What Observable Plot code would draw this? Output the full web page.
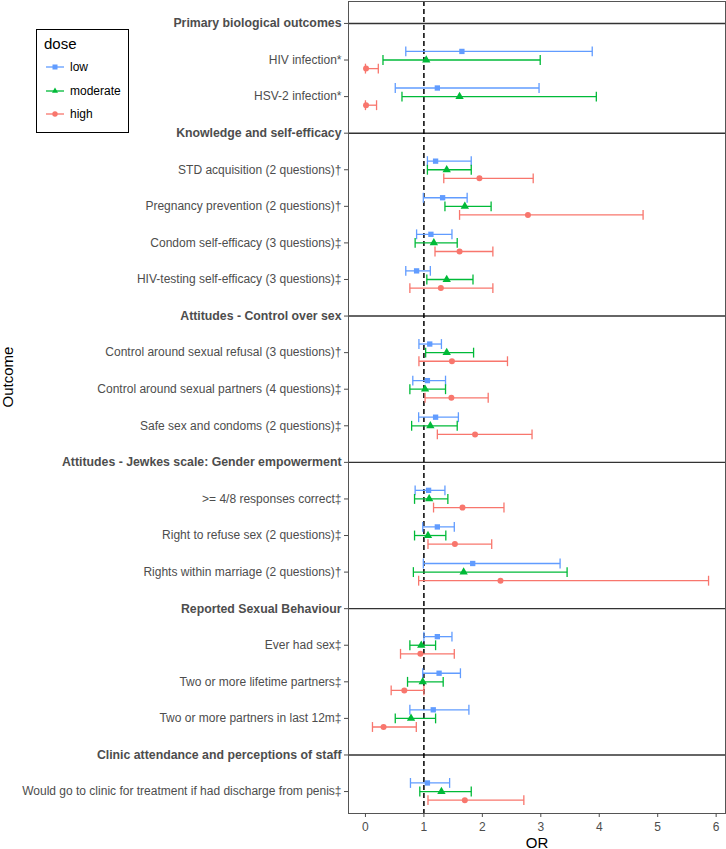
<!DOCTYPE html>
<html>
<head>
<meta charset="utf-8">
<script src="https://cdn.jsdelivr.net/npm/d3@7"></script>
<script src="https://cdn.jsdelivr.net/npm/@observablehq/plot@0.6"></script>
<style>
  body { margin: 0; background: #fff; font-family: "Liberation Sans", Arial, sans-serif; }
  #wrap { position: relative; width: 726px; height: 849px; }
  #legend { position: absolute; left: 36px; top: 29px; width: 91px; height: 102px; border: 1px solid #000; background: #fff; }
  #legend .title { position: absolute; left: 7px; top: 5px; font-size: 15px; color: #000; }
  #legend .item { position: absolute; left: 9px; height: 14px; font-size: 12px; color: #000; display: flex; align-items: center; }
  #legend .item svg { margin-right: 6px; }
</style>
</head>
<body>
<div id="wrap"><div id="chart"></div><div id="legend"></div></div>
<script>
const rows = [
  "Primary biological outcomes",
  "HIV infection*",
  "HSV-2 infection*",
  "Knowledge and self-efficacy",
  "STD acquisition (2 questions)†",
  "Pregnancy prevention (2 questions)†",
  "Condom self-efficacy (3 questions)‡",
  "HIV-testing self-efficacy (3 questions)‡",
  "Attitudes - Control over sex",
  "Control around sexual refusal (3 questions)†",
  "Control around sexual partners (4 questions)‡",
  "Safe sex and condoms (2 questions)‡",
  "Attitudes - Jewkes scale: Gender empowerment",
  ">= 4/8 responses correct‡",
  "Right to refuse sex (2 questions)‡",
  "Rights within marriage (2 questions)†",
  "Reported Sexual Behaviour",
  "Ever had sex‡",
  "Two or more lifetime partners‡",
  "Two or more partners in last 12m‡",
  "Clinic attendance and perceptions of staff",
  "Would go to clinic for treatment if had discharge from penis‡"
];
const headers = [
  "Primary biological outcomes",
  "Knowledge and self-efficacy",
  "Attitudes - Control over sex",
  "Attitudes - Jewkes scale: Gender empowerment",
  "Reported Sexual Behaviour",
  "Clinic attendance and perceptions of staff"
];
const outcomes = rows.filter(r => !headers.includes(r));

const doses = ["low", "moderate", "high"];
const doseColors = ["#619CFF", "#00BA38", "#F8766D"];
const doseSymbols = ["square", "triangle", "circle"];

const lowOR  = [1.65, 1.23, 1.20, 1.32, 1.12, 0.875, 1.10, 1.06, 1.20, 1.08, 1.23, 1.835, 1.23, 1.26, 1.16, 1.06];
const lowLo  = [0.69, 0.51, 1.06, 0.99, 0.875, 0.69, 0.915, 0.81, 0.91, 0.85, 0.98, 0.99, 1.00, 0.98, 0.76, 0.77];
const lowHi  = [3.88, 2.97, 1.81, 1.74, 1.48, 1.11, 1.30, 1.37, 1.59, 1.36, 1.52, 3.33, 1.48, 1.625, 1.77, 1.44];
const modOR  = [1.04, 1.61, 1.39, 1.70, 1.17, 1.39, 1.39, 1.02, 1.11, 1.09, 1.07, 1.68, 0.955, 0.98, 0.78, 1.30];
const modLo  = [0.30, 0.625, 1.06, 1.36, 0.85, 1.05, 1.03, 0.76, 0.79, 0.84, 0.84, 0.82, 0.76, 0.72, 0.51, 0.93];
const modHi  = [2.99, 3.95, 1.81, 2.15, 1.57, 1.84, 1.85, 1.37, 1.57, 1.41, 1.375, 3.45, 1.20, 1.33, 1.20, 1.81];
const highOR = [0.01, 0.01, 1.95, 2.78, 1.61, 1.29, 1.48, 1.47, 1.875, 1.66, 1.53, 2.31, 0.94, 0.665, 0.31, 1.70];
const highLo = [0.00, 0.00, 1.34, 1.61, 1.19, 0.76, 0.915, 1.02, 1.23, 1.165, 1.07, 0.91, 0.60, 0.44, 0.12, 1.07];
const highHi = [0.22, 0.19, 2.87, 4.75, 2.18, 2.18, 2.43, 2.10, 2.85, 2.37, 2.16, 5.87, 1.52, 1.00, 0.87, 2.71];

const xTicks = [0, 1, 2, 3, 4, 5, 6];

// build table
const series = [
  [lowOR, lowLo, lowHi],
  [modOR, modLo, modHi],
  [highOR, highLo, highHi]
];
const dodge = [-0.235, 0, 0.235];
const table = [];
doses.forEach((dose, k) => {
  outcomes.forEach((o, i) => {
    table.push({
      dose, outcome: o,
      or: series[k][0][i], lo: series[k][1][i], hi: series[k][2][i],
      yy: rows.indexOf(o) + dodge[k]
    });
  });
});
const capH = 0.135;
const headerIdx = headers.map(h => rows.indexOf(h));
const itemIdx = outcomes.map(o => rows.indexOf(o));

const marks = [
  Plot.ruleY(headerIdx, {stroke: "#333", strokeWidth: 1.4}),
  Plot.ruleX([1], {stroke: "#000", strokeWidth: 1.5, strokeDasharray: "5,3"}),
];
doses.forEach((dose, k) => {
  const d = table.filter(t => t.dose === dose);
  marks.push(
    Plot.link(d, {x1: "lo", x2: "hi", y1: "yy", y2: "yy", stroke: doseColors[k], strokeWidth: 1.3}),
    Plot.link(d, {x1: "lo", x2: "lo", y1: t => t.yy - capH, y2: t => t.yy + capH, stroke: doseColors[k], strokeWidth: 1.3}),
    Plot.link(d, {x1: "hi", x2: "hi", y1: t => t.yy - capH, y2: t => t.yy + capH, stroke: doseColors[k], strokeWidth: 1.3}),
    Plot.dot(d, {x: "or", y: "yy", symbol: doseSymbols[k], fill: doseColors[k], r: k === 1 ? 3.1 : 3.0, stroke: "none"})
  );
});
marks.push(
  Plot.frame({stroke: "#555", strokeWidth: 1}),
  Plot.axisY(itemIdx, {tickFormat: i => rows[i], tickSize: 4, tickPadding: 3, fontSize: 12, color: "#4D4D4D", label: null}),
  Plot.axisY(headerIdx, {tickFormat: i => rows[i], tickSize: 4, tickPadding: 3, fontSize: 12.3, fontWeight: "bold", color: "#4D4D4D", label: null}),
  Plot.axisX(xTicks, {tickSize: 4, tickPadding: 5, fontSize: 12, color: "#4D4D4D", label: null}),
  Plot.text(["OR"], {frameAnchor: "bottom", dy: 34, fontSize: 15, fill: "#000"}),
  Plot.text(["Outcome"], {frameAnchor: "left", dx: -340, rotate: -90, fontSize: 15, fill: "#000"})
);

const chart = Plot.plot({
  width: 726,
  height: 849,
  marginLeft: 348,
  marginRight: 1,
  marginTop: 1,
  marginBottom: 36,
  style: {fontFamily: "'Liberation Sans', Arial, sans-serif", background: "#fff"},
  x: {domain: [-0.29, 6.16], label: null},
  y: {domain: [-0.6, rows.length - 1 + 0.6], reverse: true, label: null, axis: null},
  marks
});
document.getElementById("chart").appendChild(chart);

// legend
const legend = document.getElementById("legend");
const title = document.createElement("div");
title.className = "title";
title.textContent = "dose";
legend.appendChild(title);
const symPaths = {
  square: '<rect x="6.5" y="4.5" width="5" height="5"/>',
  triangle: '<path d="M9,3.6 L12,8.8 L6,8.8 Z"/>',
  circle: '<circle cx="9" cy="7" r="2.7"/>'
};
doses.forEach((dose, k) => {
  const it = document.createElement("div");
  it.className = "item";
  it.style.top = (30 + k * 23.5) + "px";
  it.innerHTML = `<svg width="18" height="14"><line x1="0" x2="18" y1="7" y2="7" stroke="${doseColors[k]}" stroke-width="1.3"/><g fill="${doseColors[k]}">${symPaths[doseSymbols[k]]}</g></svg><span>${dose}</span>`;
  legend.appendChild(it);
});
</script>
</body>
</html>
